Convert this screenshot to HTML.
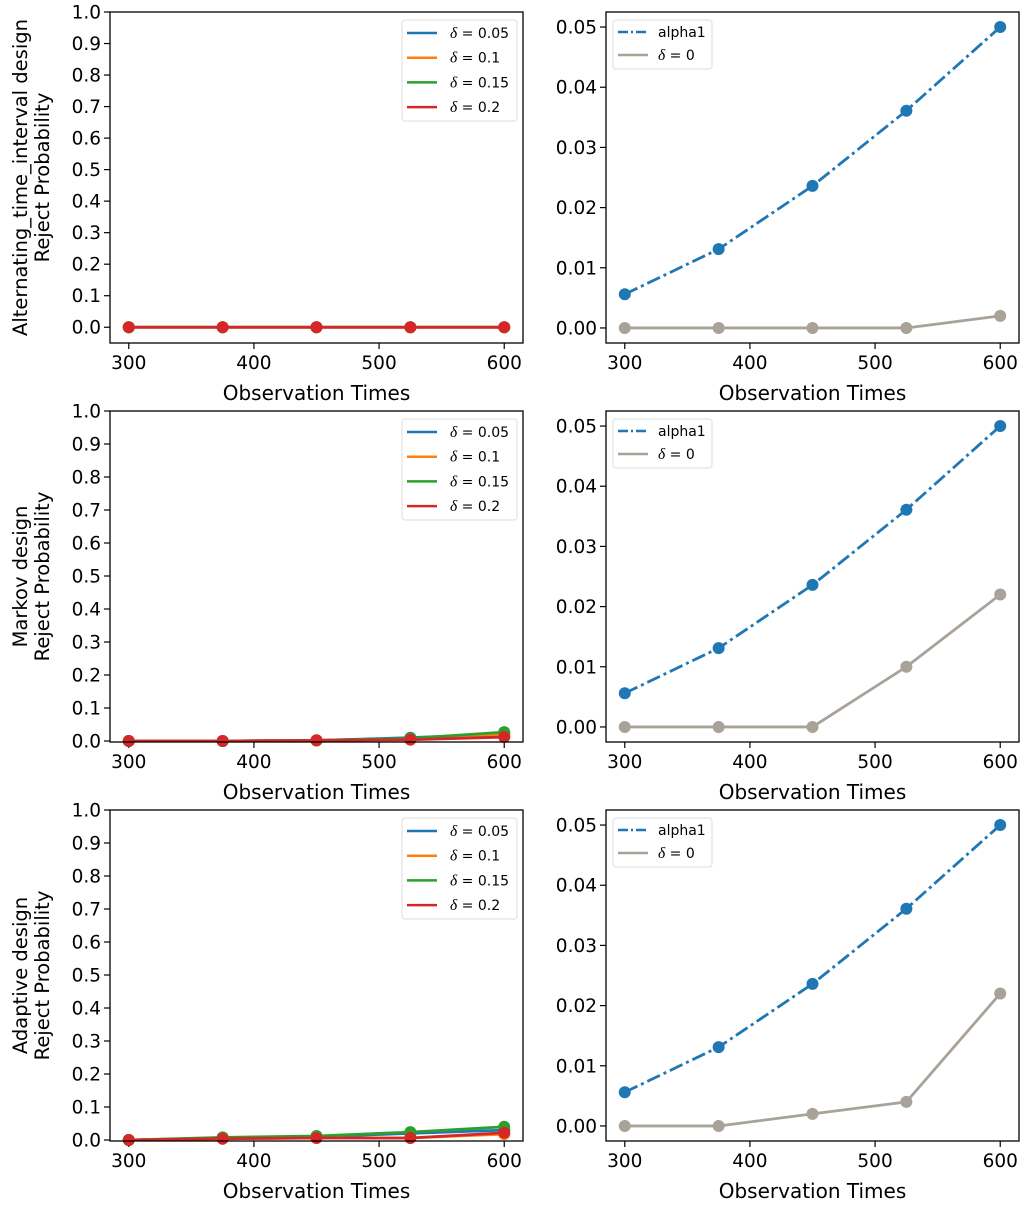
<!DOCTYPE html>
<html><head><meta charset="utf-8"><style>
body{margin:0;background:#fff;}
svg text{font-family:"DejaVu Sans","Liberation Sans",sans-serif;fill:#000;}
</style></head><body>
<svg id="fig" width="1032" height="1202" xmlns="http://www.w3.org/2000/svg"></svg>
<script>
const xs = [300, 375, 450, 525, 600];
const xTicks = [300, 400, 500, 600];
const leftYTicks = [0, 0.1, 0.2, 0.3, 0.4, 0.5, 0.6, 0.7, 0.8, 0.9, 1.0];
const rightYTicks = [0, 0.01, 0.02, 0.03, 0.04, 0.05];
const rowNames = ["Alternating_time_interval design", "Markov design", "Adaptive design"];
const deltaLabels = ["0.05", "0.1", "0.15", "0.2"];
const deltaColors = ["#1f77b4", "#ff7f0e", "#2ca02c", "#d62728"];
// row 1 left
const r1d05 = [0, 0, 0, 0, 0];
const r1d10 = [0, 0, 0, 0, 0];
const r1d15 = [0, 0, 0, 0, 0];
const r1d20 = [0, 0, 0, 0, 0];
// row 2 left
const r2d05 = [0, 0, 0.002, 0.01, 0.022];
const r2d10 = [0, 0, 0.002, 0.006, 0.02];
const r2d15 = [0, 0, 0.002, 0.008, 0.027];
const r2d20 = [0, 0, 0.002, 0.004, 0.012];
// row 3 left
const r3d05 = [0, 0.006, 0.01, 0.02, 0.03];
const r3d10 = [0, 0.004, 0.006, 0.006, 0.018];
const r3d15 = [0, 0.008, 0.012, 0.024, 0.04];
const r3d20 = [0, 0.004, 0.006, 0.006, 0.022];
// right panels
const alpha1 = [0.0056, 0.0131, 0.0236, 0.0361, 0.05];
const r1delta0 = [0, 0, 0, 0, 0.002];
const r2delta0 = [0, 0, 0, 0.01, 0.022];
const r3delta0 = [0, 0, 0.002, 0.004, 0.022];

const leftSeries = [[r1d05, r1d10, r1d15, r1d20], [r2d05, r2d10, r2d15, r2d20], [r3d05, r3d10, r3d15, r3d20]];
const rightDelta = [r1delta0, r2delta0, r3delta0];

const NS = "http://www.w3.org/2000/svg";
const svg = document.getElementById("fig");
function el(tag, attrs, parent, txt) {
  const e = document.createElementNS(NS, tag);
  for (const k in attrs) e.setAttribute(k, attrs[k]);
  if (txt !== undefined) e.textContent = txt;
  (parent || svg).appendChild(e);
  return e;
}
const rowTops = [12, 411, 810];
const axH = 331;
const leftX0 = 110, rightX0 = 606, axW = 413;
const xMin = 285, xMax = 615;
const LW = 2.8, MR = 6;

function drawAxes(r, isLeft) {
  const top = rowTops[r], bot = top + axH;
  const x0 = isLeft ? leftX0 : rightX0;
  const yMin = isLeft ? (r === 0 ? -0.05 : -0.003) : -0.0025;
  const yMax = isLeft ? 1.0 : 0.0525;
  const sx = v => x0 + (v - xMin) / (xMax - xMin) * axW;
  const sy = v => bot - (v - yMin) / (yMax - yMin) * axH;
  const g = el("g", {});
  
  
  xTicks.forEach(t => {
    el("line", {x1: sx(t), x2: sx(t), y1: bot, y2: bot + 6, stroke: "#000", "stroke-width": 1.2}, g);
    const tl = el("text", {x: sx(t), y: bot + 26, "font-size": 18.5, "text-anchor": "middle"}, g, t);
    
    
  });
  const yt = isLeft ? leftYTicks : rightYTicks;
  yt.forEach(t => {
    el("line", {x1: x0 - 6, x2: x0, y1: sy(t), y2: sy(t), stroke: "#000", "stroke-width": 1.2}, g);
    const tl = el("text", {x: x0 - 9, y: sy(t) + 6.5, "font-size": 18.5, "text-anchor": "end"}, g, isLeft ? t.toFixed(1) : t.toFixed(2));
    
    
  });
  const xl = el("text", {x: x0 + axW / 2, y: bot + 57, "font-size": 20, "text-anchor": "middle"}, g, "Observation Times");
  
  
  const clipId = "c" + r + (isLeft ? "L" : "R");
  const cp = el("clipPath", {id: clipId}, g);
  el("rect", {x: x0 - 8, y: top - 8, width: axW + 16, height: axH + 16}, cp);
  const pg = el("g", {"clip-path": "url(#" + clipId + ")"}, g);
  if (isLeft) {
    const cy = (top + bot) / 2;
    const yl = el("text", {transform: "translate(27," + cy + ") rotate(-90)", "font-size": 19.5, "text-anchor": "middle"}, g, rowNames[r]);
    
    
    const yl2 = el("text", {transform: "translate(49," + cy + ") rotate(-90)", "font-size": 19.5, "text-anchor": "middle"}, g, "Reject Probability");
    
    
    leftSeries[r].forEach((s, i) => {
      const pl = el("polyline", {points: s.map((v, j) => sx(xs[j]) + "," + sy(v)).join(" "), fill: "none", stroke: deltaColors[i], "stroke-width": LW}, pg);
      
      
      s.forEach((v, j) => {
        const c = el("circle", {cx: sx(xs[j]), cy: sy(v), r: MR, fill: deltaColors[i]}, pg);
        
        
      });
    });
    const lx = x0 + axW - 121, ly = top + 8;
    const lg = el("g", {}, g);
    
    
    el("rect", {x: lx, y: ly, width: 115, height: 101, rx: 3, fill: "#fff", stroke: "#ddd", "stroke-width": 1}, lg);
    deltaLabels.forEach((d, i) => {
      const yy = ly + 13 + i * 24.7;
      el("line", {x1: lx + 5, x2: lx + 35, y1: yy, y2: yy, stroke: deltaColors[i], "stroke-width": 2.5}, lg);
      const t = el("text", {x: lx + 48, y: yy + 5, "font-size": 14}, lg);
      el("tspan", {"font-style": "italic", "font-family": "Liberation Serif, serif", "font-size": 15.5}, t, "δ");
      el("tspan", {}, t, " = " + d);
      
      
    });
  } else {
    const pa = el("polyline", {points: alpha1.map((v, j) => sx(xs[j]) + "," + sy(v)).join(" "), fill: "none", stroke: "#1f77b4", "stroke-width": LW, "stroke-dasharray": "14,4,3,4"}, pg);
    
    
    alpha1.forEach((v, j) => {
      const c = el("circle", {cx: sx(xs[j]), cy: sy(v), r: MR, fill: "#1f77b4"}, pg);
      
      
    });
    const d0 = rightDelta[r];
    const pd = el("polyline", {points: d0.map((v, j) => sx(xs[j]) + "," + sy(v)).join(" "), fill: "none", stroke: "#a8a298", "stroke-width": LW}, pg);
    
    
    d0.forEach((v, j) => {
      const c = el("circle", {cx: sx(xs[j]), cy: sy(v), r: MR, fill: "#a8a298"}, pg);
      
      
    });
    const lx = x0 + 7, ly = top + 8;
    const lg = el("g", {}, g);
    
    
    el("rect", {x: lx, y: ly, width: 99, height: 49, rx: 3, fill: "#fff", stroke: "#ddd", "stroke-width": 1}, lg);
    el("line", {x1: lx + 5, x2: lx + 35, y1: ly + 12, y2: ly + 12, stroke: "#1f77b4", "stroke-width": 2.5, "stroke-dasharray": "10,3,2,3"}, lg);
    const t1 = el("text", {x: lx + 45, y: ly + 17, "font-size": 14}, lg, "alpha1");
    
    
    el("line", {x1: lx + 5, x2: lx + 35, y1: ly + 35, y2: ly + 35, stroke: "#a8a298", "stroke-width": 2.5}, lg);
    const t2 = el("text", {x: lx + 45, y: ly + 40, "font-size": 14}, lg);
    el("tspan", {"font-style": "italic", "font-family": "Liberation Serif, serif", "font-size": 15.5}, t2, "δ");
    el("tspan", {}, t2, " = 0");
    
    
  }
  el("rect", {x: x0, y: top, width: axW, height: axH, fill: "none", stroke: "#000", "stroke-width": 1.3}, g);
}
for (let r = 0; r < 3; r++) { drawAxes(r, true); drawAxes(r, false); }
</script>
</body></html>
